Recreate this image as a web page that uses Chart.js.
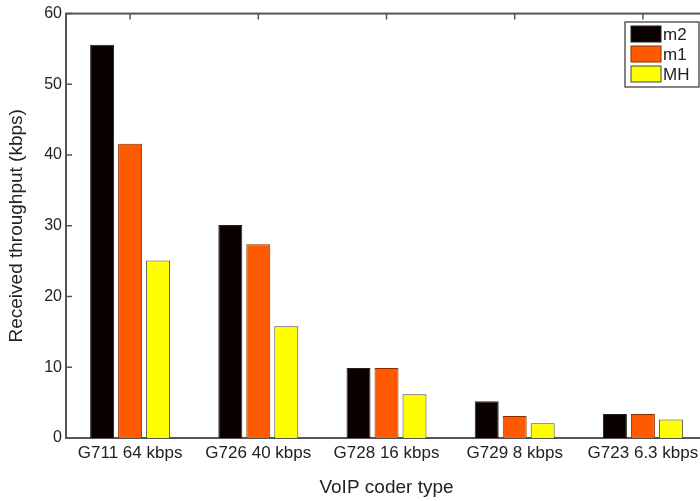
<!DOCTYPE html>
<html>
<head>
<meta charset="utf-8">
<script src="https://cdn.jsdelivr.net/npm/chart.js@4"></script>
<style>
  html, body { margin: 0; padding: 0; background: #fff; overflow: hidden; }
  #wrap { width: 710px; height: 501px; }
</style>
</head>
<body>
<div id="wrap"><canvas id="chart" width="710" height="501"></canvas></div>
<script>
const categories = ['G711 64 kbps', 'G726 40 kbps', 'G728 16 kbps', 'G729 8 kbps', 'G723 6.3 kbps'];
const m2 = [55.6, 30.1, 9.9, 5.2, 3.4];
const m1 = [41.6, 27.4, 9.9, 3.1, 3.4];
const mh = [25.1, 15.8, 6.2, 2.1, 2.6];
const yTicks = [0, 10, 20, 30, 40, 50, 60];

const FONT = "'Liberation Sans', Arial, sans-serif";
const AXIS = '#555';

// matlab style box with inward ticks
const boxPlugin = {
    id: 'box',
    beforeDatasetsDraw(chart) {
	const ctx = chart.ctx;
	const a = chart.chartArea;
	const x = chart.scales.x, y = chart.scales.y;
	ctx.save();
	ctx.strokeStyle = AXIS;
	ctx.lineWidth = 1.5;
	ctx.beginPath();
	x.ticks.forEach((t, i) => {
	    const px = x.getPixelForTick(i);
	    ctx.moveTo(px, a.top); ctx.lineTo(px, a.top + 6);
	    ctx.moveTo(px, a.bottom); ctx.lineTo(px, a.bottom - 6);
	});
	yTicks.forEach(v => {
	    const py = y.getPixelForValue(v);
	    ctx.moveTo(a.left, py); ctx.lineTo(a.left + 6, py);
	    ctx.moveTo(a.right, py); ctx.lineTo(a.right - 6, py);
	});
	ctx.stroke();
	ctx.lineWidth = 2;
	ctx.strokeRect(a.left, a.top, a.right - a.left, a.bottom - a.top);
	ctx.restore();
    },
    afterDraw(chart) {
	// legend box, top right
	const ctx = chart.ctx;
	const bx = 625, by = 22, bw = 74, bh = 65;
	ctx.save();
	ctx.fillStyle = '#fff';
	ctx.fillRect(bx, by, bw, bh);
	ctx.strokeStyle = '#333';
	ctx.lineWidth = 1.2;
	ctx.strokeRect(bx, by, bw, bh);
	ctx.font = '17px ' + FONT;
	ctx.textBaseline = 'middle';
	chart.data.datasets.forEach((ds, i) => {
	    const ry = by + 4 + i * 20;
	    ctx.fillStyle = ds.backgroundColor;
	    ctx.fillRect(bx + 6, ry, 30, 16);
	    ctx.strokeStyle = ds.borderColor;
	    ctx.lineWidth = 1;
	    ctx.strokeRect(bx + 6, ry, 30, 16);
	    ctx.fillStyle = '#222';
	    ctx.fillText(ds.label, bx + 38, ry + 9);
	});
	ctx.restore();
    }
};

new Chart(document.getElementById('chart'), {
    type: 'bar',
    data: {
	labels: categories,
	datasets: [
	    { label: 'm2', data: m2, backgroundColor: '#0a0000', borderColor: '#222', borderWidth: 1 },
	    { label: 'm1', data: m1, backgroundColor: '#ff5a00', borderColor: '#8a3000', borderWidth: 1 },
	    { label: 'MH', data: mh, backgroundColor: '#ffff00', borderColor: '#444', borderWidth: 1 }
	]
    },
    options: {
	responsive: false,
	animation: false,
	devicePixelRatio: 1,
	barPercentage: 0.857,
	categoryPercentage: 0.655,
	layout: { padding: { left: 0, top: 12, right: 3, bottom: 0 } },
	plugins: {
	    legend: { display: false },
	    tooltip: { enabled: false }
	},
	scales: {
	    x: {
		grid: { display: false, drawTicks: false },
		border: { display: false },
		ticks: { color: '#222', font: { family: FONT, size: 17 }, padding: 5, maxRotation: 0, autoSkip: false },
		title: { display: true, text: 'VoIP coder type', color: '#222', font: { family: FONT, size: 19 }, padding: { top: 0, bottom: 2 } },
		afterFit(scale) { scale.height = 63; }
	    },
	    y: {
		min: 0,
		max: 60,
		grid: { display: false, drawTicks: false },
		border: { display: false },
		ticks: { stepSize: 10, color: '#222', font: { family: FONT, size: 16 }, padding: 4 },
		title: { display: true, text: 'Received throughput (kbps)', color: '#222', font: { family: FONT, size: 19 }, padding: { top: 5, bottom: 0 } },
		afterFit(scale) { scale.width = 66; }
	    }
	}
    },
    plugins: [boxPlugin]
});
</script>
</body>
</html>
